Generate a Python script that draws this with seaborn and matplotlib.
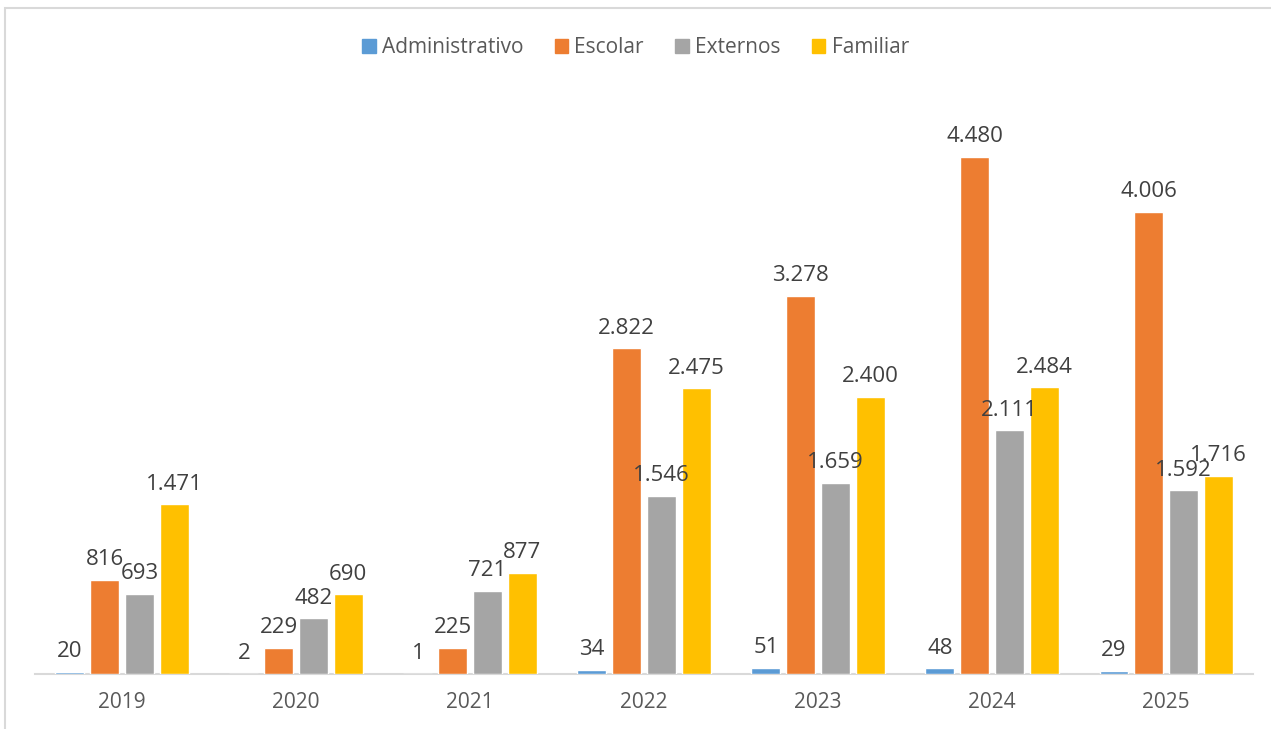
import numpy as np
import pandas as pd
import seaborn as sns
import matplotlib.pyplot as plt
from matplotlib.patches import Rectangle

years = ['2019', '2020', '2021', '2022', '2023', '2024', '2025']
series = ['Administrativo', 'Escolar', 'Externos', 'Familiar']
administrativo = [20, 2, 1, 34, 51, 48, 29]
escolar = [816, 229, 225, 2822, 3278, 4480, 4006]
externos = [693, 482, 721, 1546, 1659, 2111, 1592]
familiar = [1471, 690, 877, 2475, 2400, 2484, 1716]
colors = ['#5B9BD5', '#ED7D31', '#A5A5A5', '#FFC000']

# long format for seaborn
rows = []
for name, vals in zip(series, [administrativo, escolar, externos, familiar]):
    for y, v in zip(years, vals):
        rows.append({'Ano': y, 'Tipo': name, 'Valor': v})
df = pd.DataFrame(rows)

sns.set_style('white')
plt.rcParams['font.family'] = ['Open Sans', 'DejaVu Sans']
text_color = '#595959'

fig = plt.figure(figsize=(12.71, 7.29), dpi=100)
ax = fig.add_axes([0.0275, 0.0754, 0.9585, 0.7916])

sns.barplot(data=df, x='Ano', y='Valor', hue='Tipo', hue_order=series,
            palette=colors, width=0.8, gap=0.17, saturation=1, ax=ax, zorder=3)

# data labels with dot thousands separator
for cont, name in zip(ax.containers, series):
    vals = df[df['Tipo'] == name]['Valor'].tolist()
    labs = [f'{v:,}'.replace(',', '.') for v in vals]
    ax.bar_label(cont, labels=labs, padding=7, fontsize=16, color='#404040')

ax.set_xlim(-0.5, 6.5)
ax.set_ylim(0, 5000)
ax.set_xlabel('')
ax.set_ylabel('')
ax.set_yticks([])
ax.tick_params(axis='x', length=0, labelsize=15, labelcolor=text_color, pad=13)
for s in ['top', 'right', 'left']:
    ax.spines[s].set_visible(False)
ax.spines['bottom'].set_color('#d9d9d9')
ax.spines['bottom'].set_linewidth(1.5)
ax.spines['bottom'].set_zorder(1)

ax.get_legend().remove()
handles = [Rectangle((0, 0), 1, 1, color=c) for c in colors]
fig.legend(handles, series, loc='center', bbox_to_anchor=(0.5, 0.935), ncol=4,
           frameon=False, fontsize=15, labelcolor=text_color,
           handlelength=0.65, handleheight=0.65, handletextpad=0.3, columnspacing=1.5)

# thin chart border like the original frame
fig.patches.append(Rectangle((5 / 1271, -0.05), 1.1, 1 - 8 / 729 + 0.05,
                             transform=fig.transFigure, fill=False,
                             edgecolor='#d9d9d9', linewidth=1.5))

fig.savefig('out.png', dpi=100)
